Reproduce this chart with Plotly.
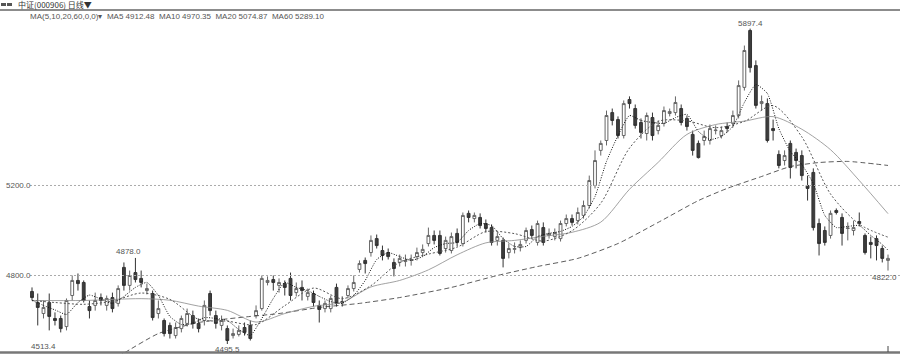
import plotly.graph_objects as go

# ---- candle data (day index 0..149) ----
opens = [4729,4680,4631,4680,4609,4609,4573,4711,4778,4769,
         4662,4667,4702,4667,4702,4676,4836,4756,4813,4787,
         4733,4720,4631,4600,4578,4533,4564,4587,4622,4587,
         4600,4720,4622,4578,4564,4533,4538,4569,4578,4622,
         4653,4769,4782,4756,4764,4787,4724,4747,4707,4720,
         4667,4653,4653,4747,4684,4711,4742,4827,4867,4902,
         4964,4911,4902,4858,4858,4862,4867,4884,4902,4942,
         4978,4978,4920,4911,4987,4942,5076,5053,5058,5031,
         5013,4956,4956,4902,4916,4924,4956,5004,4947,5013,
         4978,4973,4964,5031,5053,5044,5067,5111,5200,5356,
         5400,5524,5493,5422,5582,5542,5480,5431,5502,5444,
         5476,5520,5524,5542,5498,5427,5387,5400,5400,5444,
         5422,5462,5476,5511,5636,5889,5733,5564,5564,5453,
         5338,5311,5387,5347,5333,5200,5258,5031,5000,4978,
         5089,5058,5009,5000,5040,4978,4947,4964,4920,4867]
highs = [4747,4720,4689,4720,4636,4622,4698,4800,4809,4778,
         4689,4724,4720,4711,4724,4756,4858,4822,4878,4822,
         4764,4733,4689,4609,4591,4591,4622,4653,4644,4609,
         4689,4733,4644,4622,4578,4564,4578,4591,4600,4667,
         4800,4796,4800,4787,4778,4813,4769,4778,4742,4733,
         4689,4689,4711,4764,4707,4756,4800,4867,4880,4978,
         4982,4933,4920,4876,4893,4893,4893,4924,4938,5013,
         5000,5000,4973,4991,5009,5080,5089,5080,5076,5049,
         5027,4991,4969,4942,4947,4956,5013,5022,5044,5036,
         5009,5009,5044,5071,5071,5102,5133,5244,5356,5400,
         5533,5542,5507,5578,5596,5560,5498,5524,5524,5489,
         5551,5542,5596,5560,5511,5444,5400,5444,5471,5467,
         5462,5480,5533,5667,5822,5897.4,5756,5600,5587,5493,
         5356,5356,5400,5364,5356,5244,5276,5053,5018,5089,
         5098,5076,5036,5044,5080,4987,4973,4978,4933,4893]
lows = [4689,4578,4609,4556,4578,4547,4556,4689,4733,4680,
        4609,4644,4667,4644,4636,4662,4733,4733,4769,4747,
        4716,4600,4609,4529,4520,4520,4547,4573,4564,4547,
        4578,4622,4564,4556,4495.5,4520,4529,4533,4511,4609,
        4644,4756,4733,4724,4711,4689,4707,4689,4689,4662,
        4591,4636,4636,4662,4662,4698,4729,4813,4809,4884,
        4920,4867,4871,4796,4840,4840,4844,4867,4884,4929,
        4938,4889,4902,4898,4929,4929,5036,5036,5009,4991,
        4933,4933,4836,4876,4898,4907,4942,4964,4933,4933,
        4964,4956,4951,5018,5022,5027,5053,5098,5187,5333,
        5378,5467,5409,5409,5542,5453,5409,5400,5400,5427,
        5462,5507,5511,5467,5444,5333,5320,5378,5382,5427,
        5409,5436,5458,5498,5622,5702,5542,5533,5391,5400,
        5276,5289,5231,5276,5222,5133,5000,4889,4933,4964,
        5071,4933,4956,4978,5018,4893,4876,4867,4858,4822.0]
closes = [4702,4658,4658,4618,4600,4564,4689,4778,4764,4689,
          4644,4689,4689,4698,4653,4742,4756,4800,4782,4769,
          4742,4613,4653,4542,4542,4569,4609,4631,4587,4564,
          4667,4644,4587,4600,4511,4542,4556,4547,4520,4644,
          4787,4778,4769,4769,4747,4711,4742,4733,4724,4680,
          4649,4676,4698,4676,4680,4742,4769,4853,4853,4956,
          4933,4889,4884,4831,4876,4867,4871,4902,4916,4978,
          4956,4898,4956,4973,4947,5067,5058,5067,5022,5009,
          4947,4973,4876,4920,4920,4938,5000,4978,5031,4947,
          4987,4991,5031,5053,5036,5080,5111,5222,5311,5387,
          5511,5489,5422,5564,5564,5467,5436,5511,5422,5467,
          5533,5529,5569,5480,5462,5356,5324,5418,5453,5446,
          5444,5453,5511,5644,5800,5724,5556,5573,5400,5444,
          5289,5333,5280,5311,5244,5187,5013,4942,4947,5076,
          5080,4987,5011,5013,5031,4902,4938,4933,4876,4876]
days = list(range(len(closes)))

# ---- moving averages ----
ma5_days = list(range(0, 149, 2)) + [149]
ma5 = [4689,4667,4647,4627,4680,4713,4695,4676,4707,4747,
       4769,4711,4618,4582,4587,4613,4609,4600,4560,4533,
       4609,4698,4769,4747,4733,4707,4684,4676,4711,4778,
       4871,4902,4884,4867,4884,4924,4942,4947,5000,5031,
       5022,4964,4929,4929,4973,4987,4996,5018,5062,5151,
       5307,5422,5511,5489,5480,5476,5502,5516,5440,5404,
       5418,5462,5569,5649,5609,5453,5351,5293,5209,5067,
       5013,5018,5022,4978,4938,4912.48]
ma10_days = [0, 4] + list(range(9, 150, 5))
ma10 = [4689,4680,4672,4686,4722,4694,4605,4597,4582,4666,
        4744,4697,4755,4859,4895,4926,4995,4986,4953,4999,
        5121,5366,5485,5487,5457,5485,5555,5416,5162,5028,4970.35]
ma20_days = [0, 9] + list(range(19, 150, 5))
ma20 = [4689,4689,4697,4690,4664,4645,4593,4631,4663,4681,
        4749,4778,4825,4892,4945,4956,4974,4992,5037,5183,
        5303,5427,5471,5486,5506,5450,5359,5222,5074.87]
ma60_days = [15,16,22,29,38,43,50,57,64,73,81,88,95,102,109,116,121,127,132,137,142,149]
ma60 = [4440,4455,4542,4591,4618,4631,4658,4676,4702,4747,4800,4840,
        4876,4942,5036,5133,5187,5240,5284,5302,5307,5289.1]

y_ticks = [4800, 5200]
y_tick_text = ["4800.0", "5200.0"]

header = "中证(000906) 日线▼"
ma_header = "MA(5,10,20,60,0,0)▾  MA5 4912.48  MA10 4970.35  MA20 5074.87  MA60 5289.10"

fig = go.Figure()
fig.add_trace(go.Candlestick(
    x=days, open=opens, high=highs, low=lows, close=closes,
    increasing=dict(line=dict(color="#666666", width=1), fillcolor="#ffffff"),
    decreasing=dict(line=dict(color="#333333", width=1), fillcolor="#3d3d3d"),
    whiskerwidth=0, showlegend=False, hoverinfo="skip"))

fig.add_trace(go.Scatter(x=ma60_days, y=ma60, mode="lines",
                         line=dict(color="#333333", width=0.8, dash="5px,3px", shape="spline", smoothing=0.6),
                         showlegend=False, hoverinfo="skip"))
fig.add_trace(go.Scatter(x=ma20_days, y=ma20, mode="lines",
                         line=dict(color="#8a8a8a", width=0.8, shape="spline", smoothing=0.8),
                         showlegend=False, hoverinfo="skip"))
fig.add_trace(go.Scatter(x=ma10_days, y=ma10, mode="lines",
                         line=dict(color="#555555", width=1, dash="2px,2px", shape="spline", smoothing=0.8),
                         showlegend=False, hoverinfo="skip"))
fig.add_trace(go.Scatter(x=ma5_days, y=ma5, mode="lines",
                         line=dict(color="#111111", width=1, dash="1px,1.5px", shape="spline", smoothing=0.5),
                         showlegend=False, hoverinfo="skip"))

W, H = 900, 354
dx = 856 / 149.0
x0 = -32 / dx
x1 = 149 + 12 / dx
ymin, ymax = 4451.1, 6024.4

shapes = []
for v in y_ticks:
    shapes.append(dict(type="line", xref="paper", yref="y", x0=30 / W, x1=1, y0=v, y1=v,
                       line=dict(color="#aaaaaa", width=1, dash="2px,2px")))
shapes.append(dict(type="line", xref="paper", yref="paper", x0=0, x1=1,
                   y0=1 - 10 / H, y1=1 - 10 / H, line=dict(color="#666666", width=1.5)))
shapes.append(dict(type="line", xref="paper", yref="paper", x0=0, x1=1,
                   y0=1.5 / H, y1=1.5 / H, line=dict(color="#777777", width=2.5)))
shapes.append(dict(type="line", xref="x", yref="paper", x0=149, x1=149,
                   y0=2 / H, y1=8 / H, line=dict(color="#444444", width=1)))
shapes.append(dict(type="rect", xref="paper", yref="paper", x0=1 / W, x1=6 / W,
                   y0=1 - 6 / H, y1=1 - 3 / H, fillcolor="#555555", line=dict(width=0)))
shapes.append(dict(type="rect", xref="paper", yref="paper", x0=7 / W, x1=12 / W,
                   y0=1 - 6 / H, y1=1 - 3 / H, fillcolor="#555555", line=dict(width=0)))

lab_font = dict(family="Liberation Sans, Arial", size=8, color="#555555")
ann = [
    dict(text=header, xref="paper", yref="paper", x=16 / W, y=1 - 4.5 / H,
         xanchor="left", yanchor="middle", showarrow=False,
         font=dict(family="Noto Sans CJK SC", size=8, color="#333333")),
    dict(text=ma_header, xref="paper", yref="paper", x=28 / W, y=1 - 16 / H,
         xanchor="left", yanchor="middle", showarrow=False,
         font=dict(family="Liberation Sans, Arial", size=8, color="#555555")),
]
for v, t in zip(y_ticks, y_tick_text):
    ann.append(dict(text=t, xref="paper", yref="y", x=4 / W, y=v, xanchor="left",
                    yanchor="middle", showarrow=False, font=lab_font))
hi_i = highs.index(max(highs))
lo_i = lows.index(min(lows))
ann.append(dict(text=f"{highs[hi_i]:.1f}", x=hi_i, y=highs[hi_i], xref="x", yref="y",
                xanchor="center", yanchor="bottom", showarrow=False, font=lab_font, yshift=-1))
ann.append(dict(text=f"{lows[lo_i]:.1f}", x=lo_i, y=lows[lo_i], xref="x", yref="y",
                xanchor="center", yanchor="top", showarrow=False, font=lab_font, yshift=1))
ann.append(dict(text=f"{highs[18]:.1f}", x=18, y=highs[18], xref="x", yref="y",
                xanchor="center", yanchor="bottom", showarrow=False, font=lab_font, xshift=-7))
ann.append(dict(text="4513.4", x=2, y=4513.4, xref="x", yref="y",
                xanchor="center", yanchor="top", showarrow=False, font=lab_font))
ann.append(dict(text=f"{lows[-1]:.1f}", x=1, y=lows[-1], xref="paper", yref="y",
                xanchor="right", yanchor="top", showarrow=False, font=lab_font, xshift=-1))

fig.update_layout(
    width=W, height=H, margin=dict(l=0, r=0, t=0, b=0),
    paper_bgcolor="white", plot_bgcolor="white",
    xaxis=dict(visible=False, range=[x0, x1], rangeslider=dict(visible=False)),
    yaxis=dict(visible=False, range=[ymin, ymax]),
    shapes=shapes, annotations=ann, showlegend=False)

fig.write_html("out.html")
